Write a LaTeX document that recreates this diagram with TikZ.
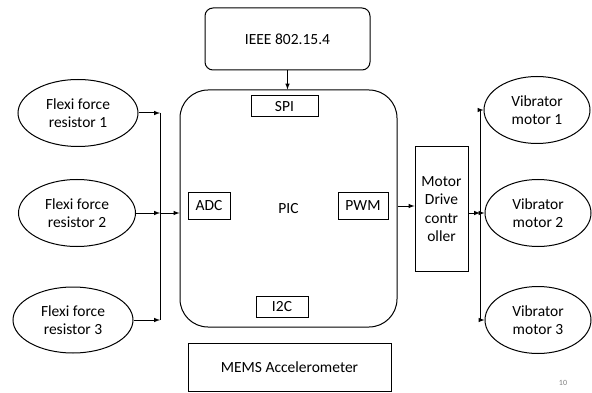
\documentclass[tikz,border=0pt]{standalone}
\usepackage{fontspec}
\setmainfont{Carlito}
\usetikzlibrary{shapes.geometric}

\begin{document}
\begin{tikzpicture}[x=1pt,y=-1pt,line width=1pt,>=latex,
  font=\fontsize{15.5}{18.5}\selectfont,
  blk/.style={draw,inner sep=0pt,align=center},
  oval/.style={draw,ellipse,inner sep=0pt,align=center,minimum height=67}]
%\draw[step=50,gray,very thin] (0,0) grid (592,393);
\useasboundingbox (0,0) rectangle (592,393);
\node[blk,rounded corners=8,minimum width=165,minimum height=62] (ieee) at (287.5,39) {IEEE 802.15.4};
\node[blk,rounded corners=28,minimum width=217,minimum height=237] (pic) at (288.5,208.5) {PIC};
\node[blk,minimum width=67,minimum height=21] (spi) at (284.5,106.5) {SPI};
\node[blk,minimum width=52,minimum height=21] (i2c) at (282,306.5) {I2C};
\node[blk,minimum width=42,minimum height=26] (adc) at (209,206) {ADC};
\node[blk,minimum width=50,minimum height=26] (pwm) at (363,206) {PWM};
\node[blk,minimum width=203,minimum height=48] (mems) at (289.5,367) {MEMS Accelerometer};
\node[blk,minimum width=53,minimum height=124] (mdc) at (441.5,209) {Motor\\Drive\\contr\\oller};
% flexi force sensors
\node[oval,minimum width=120] (fr1) at (78,113) {Flexi force\\resistor 1};
\node[oval,minimum width=117] (fr2) at (77,213) {Flexi force\\resistor 2};
\node[oval,minimum width=120,minimum height=66] (fr3) at (73,320) {Flexi force\\resistor 3};
% vibrators
\node[oval,minimum width=106] (vm1) at (537,110) {Vibrator\\motor 1};
\node[oval,minimum width=106] (vm2) at (538,213) {Vibrator\\motor 2};
\node[oval,minimum width=106] (vm3) at (538,320) {Vibrator\\motor 3};
\node[text=gray,font=\fontsize{8}{9}\selectfont] (pgno) at (563,383) {10};

\coordinate (lbus) at (160,0);
\coordinate (rbus) at (480,0);
\draw[->] (fr1.east) -- (fr1.east -| lbus);
\draw[->] (fr2.east) -- (fr2.east -| lbus);
\draw[->] (fr3.east) -- (fr3.east -| lbus);
\draw (fr1.east -| lbus) -- (fr3.east -| lbus);
\draw[->] (fr2.east -| lbus) -- (fr2.east -| pic.west);
\draw[->] (ieee.south) -- (ieee.south |- pic.north);
\draw[->] (pwm -| pic.east) -- (pwm -| mdc.west);
\draw[->] (mdc.east |- vm2) -- (vm2 -| rbus);
\draw (vm1.west -| rbus) -- (vm3.west -| rbus);
\draw[->] (vm1.west -| rbus) -- (vm1.west);
\draw[->] (vm2 -| rbus) -- (vm2.west);
\draw[->] (vm3.west -| rbus) -- (vm3.west);

\end{tikzpicture}
\end{document}
